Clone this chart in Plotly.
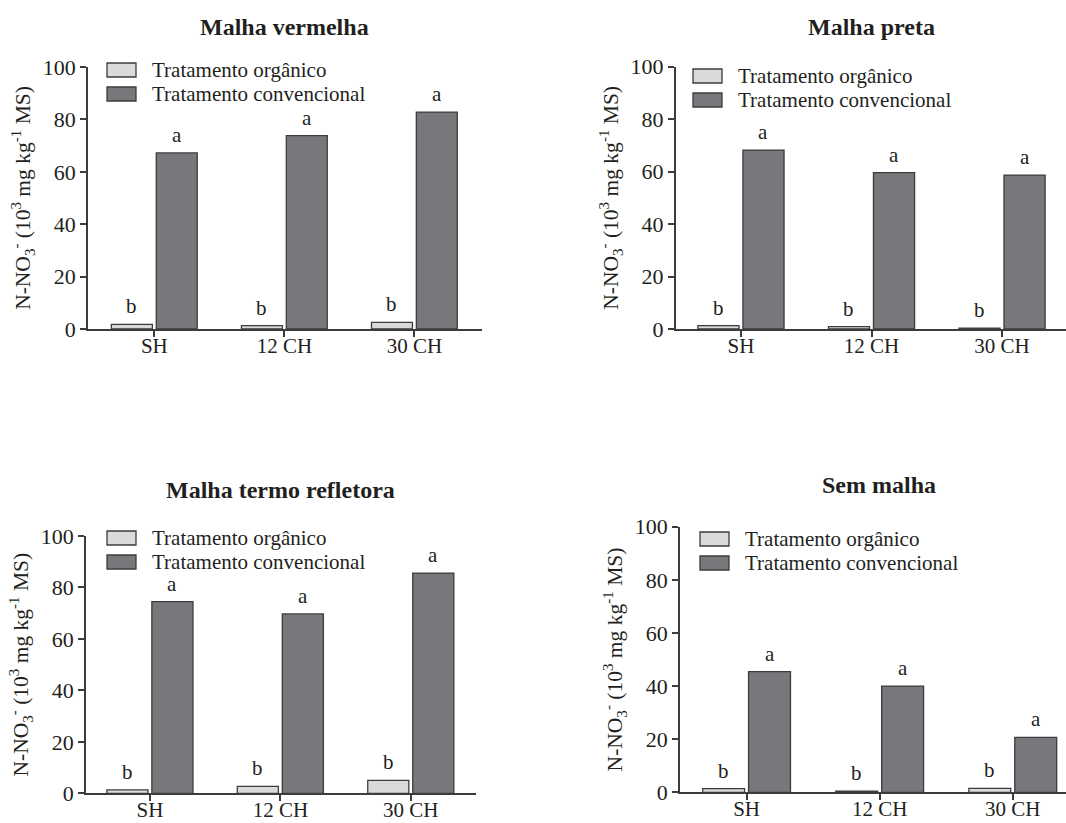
import plotly.graph_objects as go

# Dados de N-NO3- (10^3 mg kg-1 MS) por tipo de malha
categorias = ["SH", "12 CH", "30 CH"]
titulos = ["Malha vermelha", "Malha preta", "Malha termo refletora", "Sem malha"]

organico_vermelha = [1.8, 1.3, 2.5]
convencional_vermelha = [67.2, 73.8, 82.8]
organico_preta = [1.3, 0.9, 0.3]
convencional_preta = [68.2, 59.6, 58.7]
organico_termo = [1.3, 2.7, 5.0]
convencional_termo = [74.5, 69.7, 85.6]
organico_sem = [1.4, 0.4, 1.5]
convencional_sem = [45.4, 40.0, 20.7]

letras_organico = ["b", "b", "b"]
letras_convencional = ["a", "a", "a"]

serie_nomes = ["Tratamento orgânico", "Tratamento convencional"]
y_ticks = [0, 20, 40, 60, 80, 100]

W, H = 1066, 823
FONT = "Liberation Serif"
TXT = "#231f20"
LINE = "#3c3c3c"
COR_ORG = "#d9dadb"
COR_CONV = "#77787b"

BAR_W = 0.315
OFF_ORG = -0.33
OFF_CONV = 0.015


def xp(px):
    return px / W


def yp(py):
    return 1 - py / H


# Painéis: (x0, x1, y_top, y_bottom) em pixels, faixa do eixo x, posição do título e da legenda
paineis = [
    dict(org=organico_vermelha, conv=convencional_vermelha,
         box=(88, 482, 67, 329), xr=[-0.51, 2.52], tit=(284, 27), leg=(107, 63)),
    dict(org=organico_preta, conv=convencional_preta,
         box=(675.7, 1066, 66.7, 329), xr=[-0.5, 2.49], tit=(871, 27), leg=(693, 69)),
    dict(org=organico_termo, conv=convencional_termo,
         box=(86, 476, 536, 793.3), xr=[-0.49, 2.5], tit=(280, 490), leg=(107, 531)),
    dict(org=organico_sem, conv=convencional_sem,
         box=(680, 1066, 526.7, 792.3), xr=[-0.5, 2.4], tit=(879, 485), leg=(700, 532)),
]

fig = go.Figure()
layout = dict(
    width=W, height=H,
    margin=dict(l=0, r=0, t=0, b=0, autoexpand=False),
    paper_bgcolor="white", plot_bgcolor="white",
    barmode="overlay", showlegend=False,
    font=dict(family=FONT, color=TXT, size=21),
)
annotations = []
shapes = []

ytitle = "N-NO<sub>3</sub><sup>-</sup> (10<sup>3</sup> mg kg<sup>-1</sup> MS)"

for i, p in enumerate(paineis):
    n = "" if i == 0 else str(i + 1)
    xa, ya = "x" + n, "y" + n
    x0, x1, yt, yb = p["box"]

    fig.add_trace(go.Bar(
        x=categorias, y=p["org"], xaxis=xa, yaxis=ya,
        width=BAR_W, offset=OFF_ORG, name=serie_nomes[0],
        marker=dict(color=COR_ORG, line=dict(color=LINE, width=1.3)),
    ))
    fig.add_trace(go.Bar(
        x=categorias, y=p["conv"], xaxis=xa, yaxis=ya,
        width=BAR_W, offset=OFF_CONV, name=serie_nomes[1],
        marker=dict(color=COR_CONV, line=dict(color=LINE, width=1.3)),
    ))

    layout["xaxis" + n] = dict(
        domain=[xp(x0), xp(x1)], anchor=ya, range=p["xr"],
        type="category", showline=True, linecolor=LINE, linewidth=1.5,
        ticks="outside", ticklen=6, tickwidth=1.5, tickcolor=LINE,
        showgrid=False, zeroline=False, fixedrange=True, automargin=False,
        ticklabelstandoff=-9,
        tickfont=dict(family=FONT, size=21, color=TXT),
    )
    layout["yaxis" + n] = dict(
        domain=[yp(yb), yp(yt)], anchor=xa, range=[0, 100],
        tickvals=y_ticks, showline=True, linecolor=LINE, linewidth=1.5,
        ticks="outside", ticklen=6, tickwidth=1.5, tickcolor=LINE,
        showgrid=False, zeroline=False, fixedrange=True, automargin=False,
        tickfont=dict(family=FONT, size=22, color=TXT),
        title=dict(text=ytitle, font=dict(family=FONT, size=21.5, color=TXT), standoff=6),
    )

    # Letras de significância sobre as barras
    for j in range(len(categorias)):
        annotations.append(dict(
            x=j + OFF_ORG + BAR_W / 2, y=p["org"][j], xref=xa, yref=ya,
            text=letras_organico[j], showarrow=False, yanchor="bottom", yshift=4,
            font=dict(family=FONT, size=21, color=TXT),
        ))
        annotations.append(dict(
            x=j + OFF_CONV + BAR_W / 2, y=p["conv"][j], xref=xa, yref=ya,
            text=letras_convencional[j], showarrow=False, yanchor="bottom", yshift=4,
            font=dict(family=FONT, size=21, color=TXT),
        ))

    # Título do painel
    tx, ty = p["tit"]
    annotations.append(dict(
        x=xp(tx), y=yp(ty), xref="paper", yref="paper", text="<b>%s</b>" % titulos[i],
        showarrow=False, xanchor="center", yanchor="middle",
        font=dict(family=FONT, size=24, color=TXT),
    ))

    # Legenda do painel
    lx, ly = p["leg"]
    for k, cor in enumerate([COR_ORG, COR_CONV]):
        top = ly + k * 24
        shapes.append(dict(
            type="rect", xref="paper", yref="paper",
            x0=xp(lx), x1=xp(lx + 29), y0=yp(top + 14), y1=yp(top),
            fillcolor=cor, line=dict(color=LINE, width=1.3),
        ))
        annotations.append(dict(
            x=xp(lx + 43), y=yp(top + 7), xref="paper", yref="paper",
            text=serie_nomes[k], showarrow=False, xanchor="left", yanchor="middle",
            font=dict(family=FONT, size=21, color=TXT),
        ))

layout["annotations"] = annotations
layout["shapes"] = shapes
fig.update_layout(**layout)

fig.write_html("out.html")
